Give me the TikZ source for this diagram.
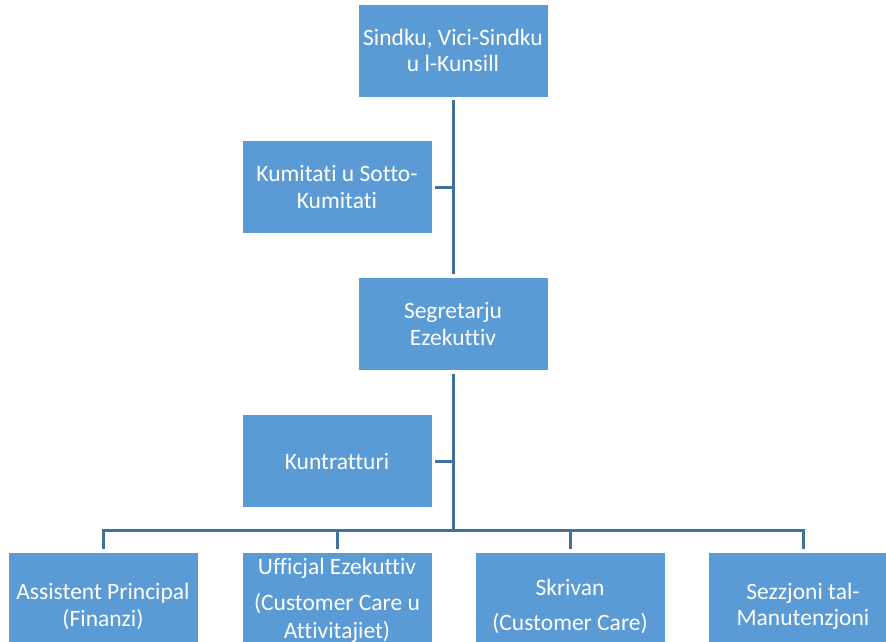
\documentclass[tikz,border=0pt]{standalone}
\usepackage{fontspec}
\setmainfont{Carlito}[Ligatures={NoCommon,TeX},RawFeature={-liga}]
\usepackage{tikz}
\usetikzlibrary{calc,positioning}

\definecolor{boxblue}{HTML}{5B9BD5}
\definecolor{lineblue}{HTML}{41719C}

\tikzset{
  post/.style={rectangle,fill=boxblue,draw=white,line width=0.8pt,text=white,
    minimum width=190pt,minimum height=93pt,inner sep=0pt,align=center,
    font=\fontsize{23.5}{26.5}\selectfont},
  lowpost/.style={post,minimum height=109pt},
  link/.style={draw=lineblue,line width=3pt,shorten <=3pt,shorten >=3pt}
}

\begin{document}
\begin{tikzpicture}[x=1pt,y=-1pt]
\useasboundingbox (0,0) rectangle (886,642);

 % upper part
 \node[post] (sindku) at (453,50.5) {Sindku, Vici-Sindku\\u l-Kunsill};
 \node[post] (kumitati) at (337,187) {Kumitati u Sotto-\\Kumitati};
 \node[post] (segretarju) at (453,324) {Segretarju\\Ezekuttiv};
 \node[post] (kuntratturi) at (337,461) {Kuntratturi};
 \coordinate (bus) at (453,530);

 % lower row (cut off by the page edge)
 \node[lowpost] (assistent) at (103,606.5) {Assistent Principal\\(Finanzi)};
 \node[post,minimum height=96pt] (ufficjal) at (337,600) {Ufficjal Ezekuttiv\\[10pt](Customer Care u\\[1pt]Attivitajiet)};
 \node[lowpost] (skrivan) at (570,606.5) {Skrivan\\[9pt](Customer Care)};
 \node[lowpost] (manutenzjoni) at (803,606.5) {Sezzjoni tal-\\Manutenzjoni};

 \draw[link] (sindku) -- (segretarju);
 \draw[link,shorten >=0pt] (kumitati) -- (kumitati -| sindku);
 \draw[link,shorten >=0pt] (segretarju) -- (bus);
 \draw[link,shorten >=0pt] (kuntratturi) -- (kuntratturi -| segretarju);

 \draw[link] (assistent) |- (bus) -| (manutenzjoni);
 \draw[link,shorten >=0pt] (ufficjal) -- (ufficjal |- bus);
 \draw[link,shorten >=0pt] (skrivan) -- (skrivan |- bus);
\end{tikzpicture}
\end{document}
